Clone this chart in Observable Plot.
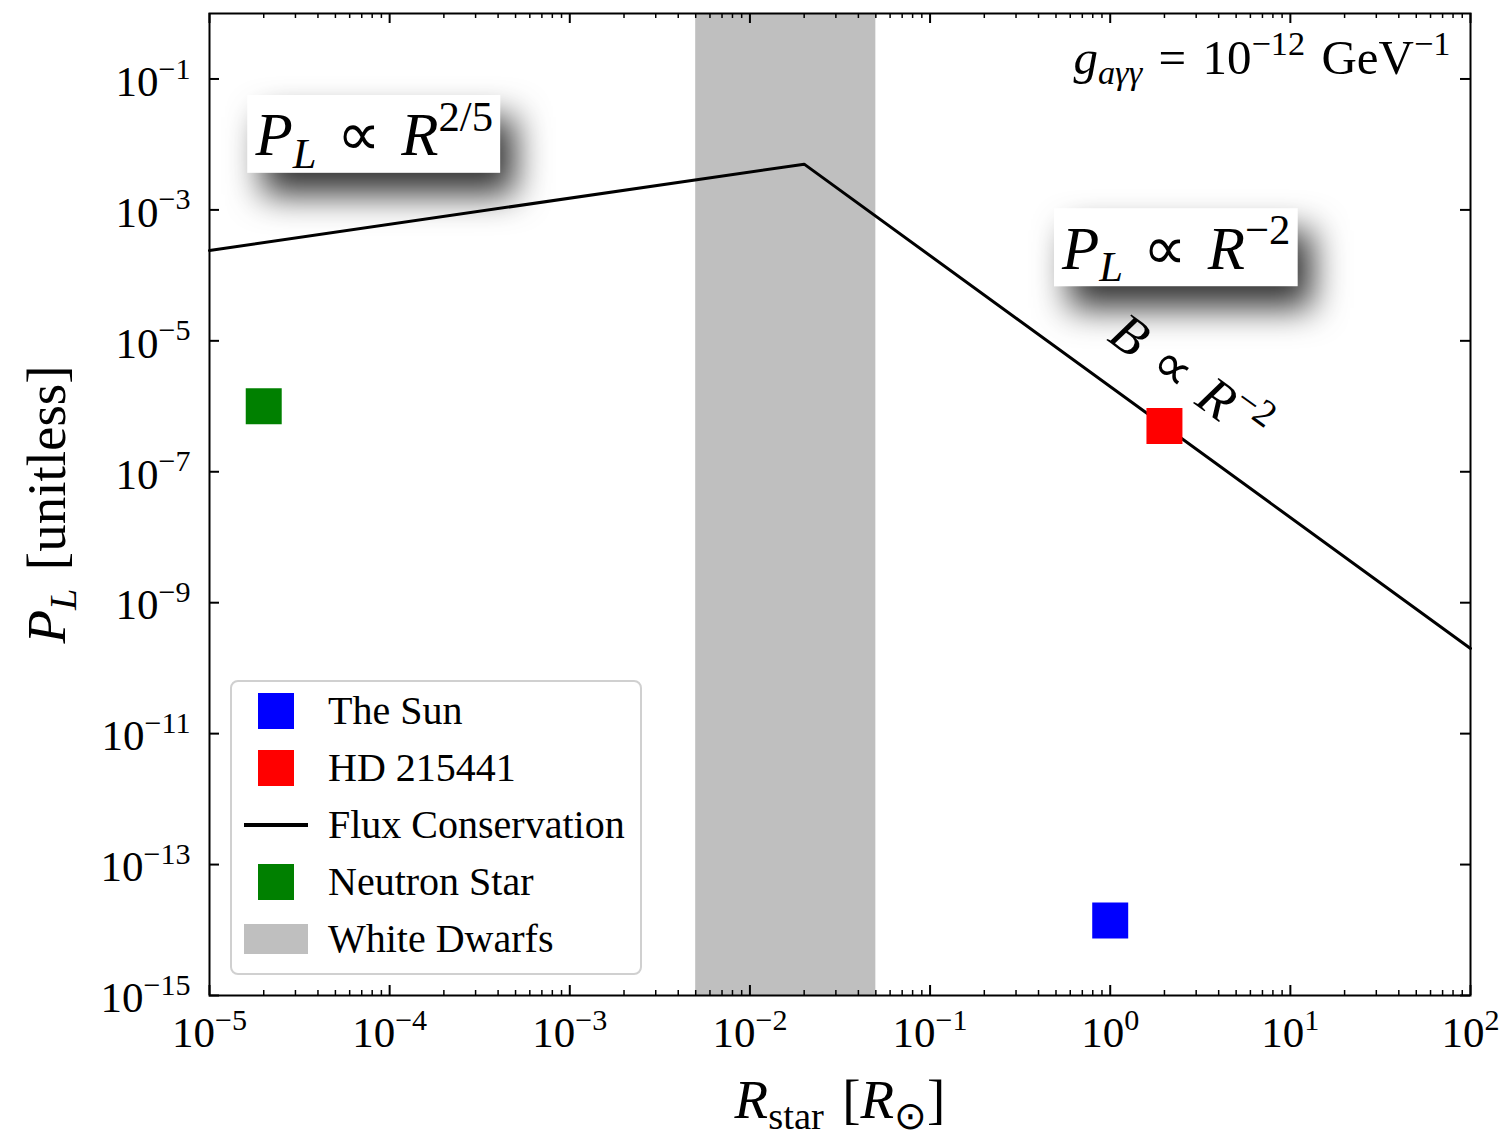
<!DOCTYPE html>
<html><head><meta charset="utf-8">
<script src="https://cdn.jsdelivr.net/npm/d3@7"></script>
<script src="https://cdn.jsdelivr.net/npm/@observablehq/plot@0.6"></script>
<style>
html,body{margin:0;padding:0;background:#fff;}
#wrap{position:relative;width:1504px;height:1136px;font-family:'Liberation Serif',serif;}
#legend{position:absolute;left:230px;top:680px;width:412px;height:295px;box-sizing:border-box;border:2px solid #d0d0d0;border-radius:8px;background:#fff;}
.row{display:flex;align-items:center;height:57px;padding-left:12px;}
.sw{width:64px;height:57px;position:relative;margin-right:20px;flex:none;}
.lab{font-size:40px;color:#000;line-height:1;white-space:nowrap;}
</style></head><body><div id="wrap"></div>
<script>
const ns = "http://www.w3.org/2000/svg";
// ---------- data ----------
const objectNames = ["The Sun", "HD 215441", "Neutron Star"];
const objectRadius = [1, 2, 2e-5];
const objectProbability = [1.4e-14, 5e-7, 1e-6];
const objectColors = ["#0000ff", "#ff0000", "#008000"];
const fluxRadius = [1e-5, 0.02, 100];
const fluxProbability = [2.4e-4, 5e-3, 2e-10];
const whiteDwarfRange = [5e-3, 5e-2];
const whiteDwarfColor = "#bfbfbf";
const xMajorTicks = [1e-5, 1e-4, 1e-3, 1e-2, 1e-1, 1, 10, 100];
const xTickLabels = ["10^{−5}", "10^{−4}", "10^{−3}", "10^{−2}", "10^{−1}", "10^{0}", "10^{1}", "10^{2}"];
const yMajorTicks = [1e-15, 1e-13, 1e-11, 1e-9, 1e-7, 1e-5, 1e-3, 1e-1];
const yTickLabels = ["10^{−15}", "10^{−13}", "10^{−11}", "10^{−9}", "10^{−7}", "10^{−5}", "10^{−3}", "10^{−1}"];
const legendLabels = ["The Sun", "HD 215441", "Flux Conservation", "Neutron Star", "White Dwarfs"];
const legendKinds = ["square", "square", "line", "square", "patch"];
const legendColors = ["#0000ff", "#ff0000", "#000000", "#008000", "#bfbfbf"];
const noteLabels = ["*P*_{*L*}\u2004∝\u2004*R*^{2/5}", "*P*_{*L*}\u2004∝\u2004*R*^{−2}"];
const noteRadius = [1.8e-5, 0.54];
const noteProbability = [1.35e-2, 2.5e-4];
const fieldLabel = "*B*\u2004∝\u2004*R*^{−2}";
const fieldRadius = 2.75;
const fieldProbability = 2.6e-6;
const couplingLabel = "*g*_{*aγγ*}\u2004=\u200410^{−12}\u2004GeV^{−1}";
const xLabel = "*R*_{star}\u2004[*R*_{⊙}]";
const yLabel = "*P*_{*L*}\u2004[unitless]";

// ---------- layout ----------
const W = 1504, H = 1136, mL = 209, mR = 34, mT = 13, mB = 141;
const plotW = W - mL - mR, plotH = H - mT - mB;
const majorLen = 10, minorLen = 5;

const objects = objectNames.map((n, i) => ({name: n, r: objectRadius[i], p: objectProbability[i], color: objectColors[i]}));
const flux = fluxRadius.map((r, i) => ({r, p: fluxProbability[i]}));
const notes = noteLabels.map((t, i) => ({text: t, r: noteRadius[i], p: noteProbability[i]}));
const xMinorTicks = xMajorTicks.slice(0, -1).flatMap(d => [2,3,4,5,6,7,8,9].map(k => k * d));
const xFmt = new Map(xMajorTicks.map((d, i) => [d, xTickLabels[i]]));
const yFmt = new Map(yMajorTicks.map((d, i) => [d, yTickLabels[i]]));

const chart = Plot.plot({
  width: W, height: H, marginLeft: mL, marginRight: mR, marginTop: mT, marginBottom: mB,
  style: {fontFamily: "'Liberation Serif', serif", background: "white", color: "black"},
  x: {type: "log", domain: [1e-5, 1e2]},
  y: {type: "log", domain: [1e-15, 1]},
  marks: [
    Plot.rect([whiteDwarfRange], {x1: d => d[0], x2: d => d[1], fill: whiteDwarfColor}),
    Plot.line(flux, {x: "r", y: "p", stroke: "black", strokeWidth: 3}),
    ...objects.map(o => Plot.dot([o], {x: "r", y: "p", fill: o.color, symbol: "square", r: 20.3})),
    // ticks (inward)
    Plot.ruleX(xMajorTicks, {x: d => d, insetTop: plotH - majorLen, strokeWidth: 2}),
    Plot.ruleX(xMajorTicks, {x: d => d, insetBottom: plotH - majorLen, strokeWidth: 2}),
    Plot.ruleX(xMinorTicks, {x: d => d, insetTop: plotH - minorLen, strokeWidth: 1.5}),
    Plot.ruleX(xMinorTicks, {x: d => d, insetBottom: plotH - minorLen, strokeWidth: 1.5}),
    Plot.ruleY(yMajorTicks, {y: d => d, insetRight: plotW - majorLen, strokeWidth: 2}),
    Plot.ruleY(yMajorTicks, {y: d => d, insetLeft: plotW - majorLen, strokeWidth: 2}),
    Plot.axisX({ticks: xMajorTicks, tickSize: 0, tickPadding: 21, tickFormat: d => xFmt.get(d), fontSize: 43, label: null}),
    Plot.axisY({ticks: yMajorTicks, tickSize: 0, tickPadding: 19, dy: 3, tickFormat: d => yFmt.get(d), fontSize: 43, label: null}),
    Plot.frame({stroke: "black", strokeWidth: 2}),
    Plot.text(notes, {x: "r", y: "p", text: "text", textAnchor: "start", lineAnchor: "middle", fontSize: 61}),
    Plot.text([fieldLabel], {x: () => fieldRadius, y: () => fieldProbability, text: d => d, rotate: 36, fontSize: 54}),
    Plot.text([couplingLabel], {frameAnchor: "top-right", dx: -20, dy: 45, textAnchor: "end", lineAnchor: "middle", text: d => d, fontSize: 49}),
    Plot.text([yLabel], {frameAnchor: "left", dx: -162, rotate: -90, textAnchor: "middle", lineAnchor: "middle", text: d => d, fontSize: 55}),
    Plot.text([xLabel], {frameAnchor: "bottom", dy: 105, textAnchor: "middle", lineAnchor: "middle", text: d => d, fontSize: 55})
  ]
});

const wrap = document.getElementById("wrap");
wrap.appendChild(chart);

// ---------- math-style text (sub/superscripts, italics) ----------
function parseMath(s) {
  const segs = []; let italic = false, level = 0, buf = "";
  const push = () => { if (buf) { segs.push({text: buf, italic, level}); buf = ""; } };
  for (let i = 0; i < s.length; i++) {
    const c = s[i];
    if ((c === "^" || c === "_") && s[i + 1] === "{") { push(); level = c === "^" ? 1 : -1; i++; continue; }
    if (c === "}" && level !== 0) { push(); level = 0; continue; }
    if (c === "*") { push(); italic = !italic; continue; }
    buf += c;
  }
  push();
  return segs;
}
function renderMath(t, s) {
  const base = parseFloat(getComputedStyle(t).fontSize);
  while (t.firstChild) t.removeChild(t.firstChild);
  let shift = 0;
  for (const seg of parseMath(s)) {
    const ts = document.createElementNS(ns, "tspan");
    const target = seg.level === 1 ? -0.4 * base : seg.level === -1 ? 0.2 * base : 0;
    if (target !== shift) ts.setAttribute("dy", target - shift);
    shift = target;
    if (seg.level !== 0) ts.setAttribute("font-size", 0.7 * base);
    if (seg.italic) ts.setAttribute("font-style", "italic");
    ts.textContent = seg.text;
    t.appendChild(ts);
  }
}
const boxed = [];
chart.querySelectorAll("text").forEach(t => {
  const s = t.textContent;
  if (noteLabels.includes(s)) boxed.push(t);
  if (/[\^_]\{|\*/.test(s)) renderMath(t, s);
});

// ---------- shadowed white boxes behind notes ----------
const defs = document.createElementNS(ns, "defs");
defs.innerHTML = '<filter id="note-shadow" x="-70%" y="-150%" width="240%" height="400%"><feDropShadow dx="15" dy="22" stdDeviation="17" flood-color="#000" flood-opacity="0.8"/></filter>';
chart.insertBefore(defs, chart.firstChild);
boxed.forEach(t => {
  const bb = t.getBBox();
  const rect = document.createElementNS(ns, "rect");
  rect.setAttribute("x", bb.x - 7);
  rect.setAttribute("y", bb.y + 2);
  rect.setAttribute("width", bb.width + 14);
  rect.setAttribute("height", bb.height - 6);
  rect.setAttribute("fill", "white");
  rect.setAttribute("filter", "url(#note-shadow)");
  const tr = t.getAttribute("transform");
  if (tr) rect.setAttribute("transform", tr);
  t.parentNode.insertBefore(rect, t);
});

// ---------- legend ----------
const legend = document.createElement("div");
legend.id = "legend";
legendLabels.forEach((label, i) => {
  const row = document.createElement("div"); row.className = "row";
  const sw = document.createElement("div"); sw.className = "sw";
  const m = document.createElement("div");
  m.style.position = "absolute"; m.style.background = legendColors[i];
  if (legendKinds[i] === "square") { m.style.left = "14px"; m.style.top = "10.5px"; m.style.width = "36px"; m.style.height = "36px"; }
  else if (legendKinds[i] === "line") { m.style.left = "0px"; m.style.top = "26.5px"; m.style.width = "64px"; m.style.height = "4px"; }
  else { m.style.left = "0px"; m.style.top = "13.5px"; m.style.width = "64px"; m.style.height = "30px"; }
  sw.appendChild(m);
  const lab = document.createElement("div"); lab.className = "lab"; lab.textContent = label;
  row.appendChild(sw); row.appendChild(lab);
  legend.appendChild(row);
});
wrap.appendChild(legend);
</script>
</body></html>
